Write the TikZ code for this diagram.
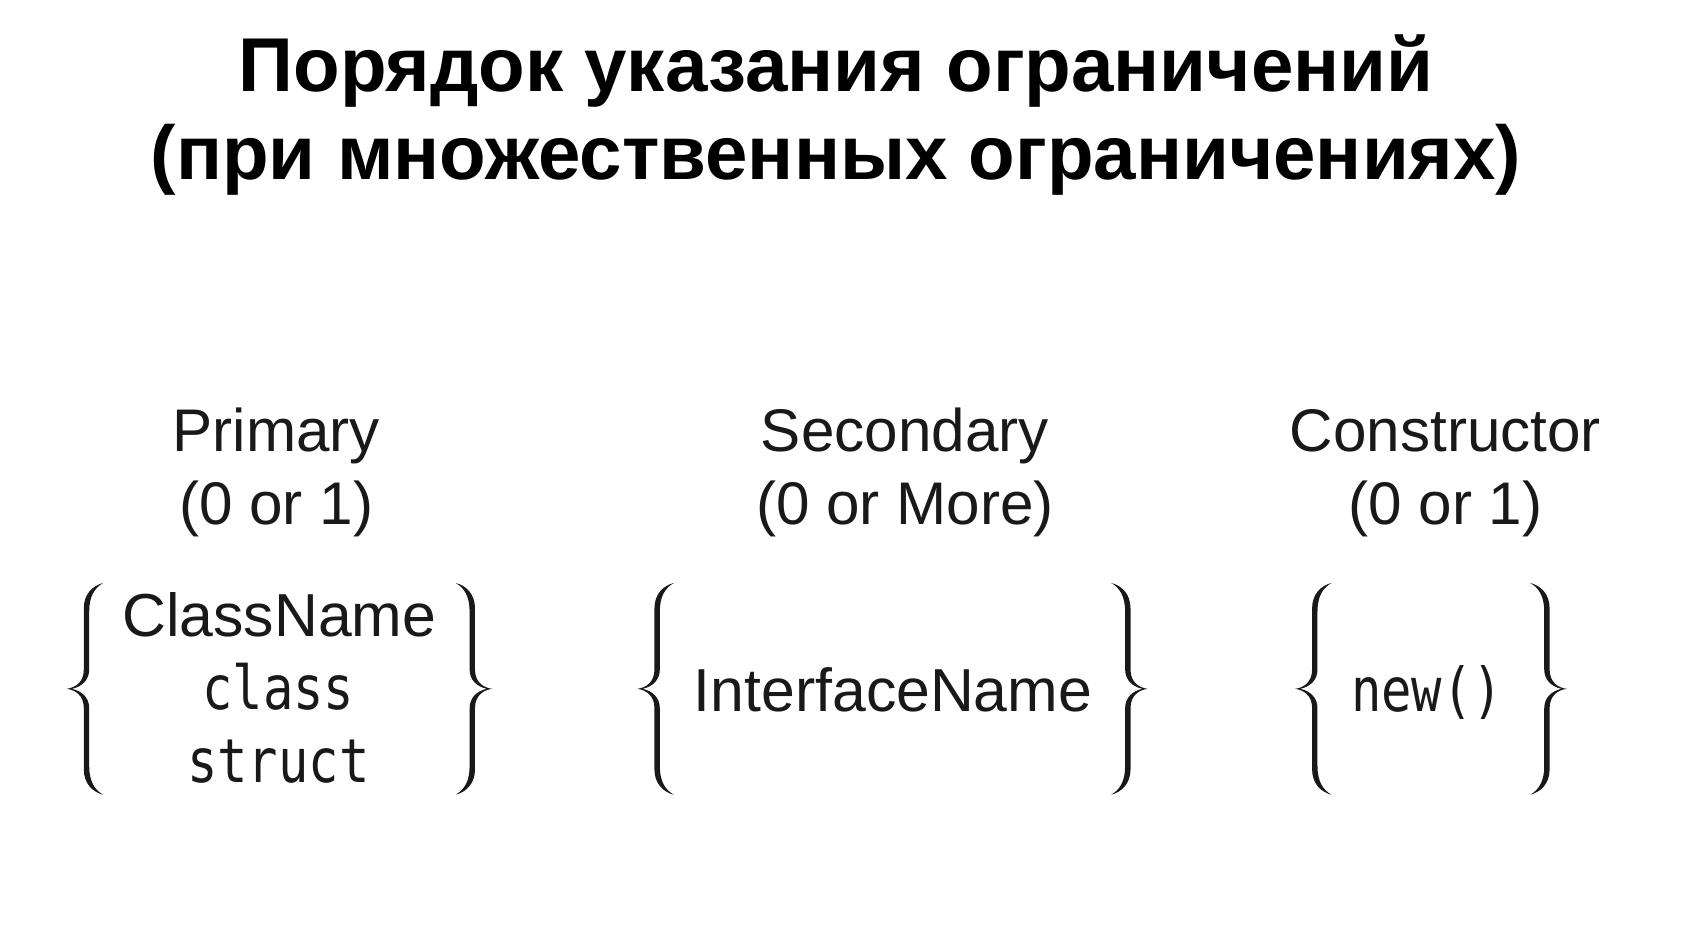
\documentclass[tikz,border=0pt]{standalone}
\usepackage{fontspec}
\setmainfont{Liberation Sans}
\newfontfamily\monofont{DejaVu Sans Mono}
\definecolor{ink}{gray}{0.1}
\newcommand{\tallmono}[1]{\scalebox{1}[1.2]{#1}}
\tikzset{
  titletext/.style={anchor=base, inner sep=0pt, font=\bfseries\fontsize{71}{84}\selectfont, text=black},
  headtext/.style={anchor=base, inner sep=0pt, font=\fontsize{56}{66}\selectfont, text=ink},
  sanstext/.style={anchor=base, inner sep=0pt, font=\fontsize{56.5}{66}\selectfont, text=ink},
  codetext/.style={anchor=base, inner sep=0pt, font=\monofont\fontsize{47}{56}\selectfont, text=ink},
  bracepic/.pic={
    \fill[ink] (34,98.5) .. controls (24,96) and (16,88) .. (16,75) -- (16,18)
      .. controls (16,6) and (8,1) .. (0,0)
      .. controls (8,-1) and (16,-6) .. (16,-18) -- (16,-75)
      .. controls (16,-88) and (24,-96) .. (34,-98.5)
      .. controls (26,-94) and (21,-86) .. (21,-72) -- (21,-18)
      .. controls (21,-8) and (14,-2) .. (5,0)
      .. controls (14,2) and (21,8) .. (21,18) -- (21,72)
      .. controls (21,86) and (26,94) .. (34,98.5) -- cycle;
  }
}
\begin{document}
\begin{tikzpicture}[x=1pt,y=1pt]
\useasboundingbox[fill=white] (0,0) rectangle (1568,-885);
% title
\node[titletext] (t1) at (778,-85) {Порядок указания ограничений};
\node[titletext] (t2) at (778,-167) {(при множественных ограничениях)};
% headings
\node[headtext] (h1a) at (257,-420) {Primary};
\node[headtext] (h1b) at (257,-488) {(0 or 1)};
\node[headtext] (h2a) at (842,-420) {Secondary};
\node[headtext] (h2b) at (842,-488) {(0 or More)};
\node[headtext] (h3a) at (1345,-420) {Constructor};
\node[headtext] (h3b) at (1345,-488) {(0 or 1)};
% contents
\node[sanstext] (c1) at (260,-592) {ClassName};
\node[codetext] (c2) at (259,-660) {\tallmono{class}};
\node[codetext] (c3) at (259,-728) {\tallmono{struct}};
\node[sanstext] (i1) at (831,-662) {InterfaceName};
\node[codetext] (n1) at (1328,-662) {\tallmono{new()}};
% braces
\pic (b1l) at (62,-641) {bracepic};
\pic[xscale=-1] (b1r) at (458,-641) {bracepic};
\pic (b2l) at (593,-641) {bracepic};
\pic[xscale=-1] (b2r) at (1068,-641) {bracepic};
\pic (b3l) at (1205,-641) {bracepic};
\pic[xscale=-1] (b3r) at (1458,-641) {bracepic};
\end{tikzpicture}
\end{document}
